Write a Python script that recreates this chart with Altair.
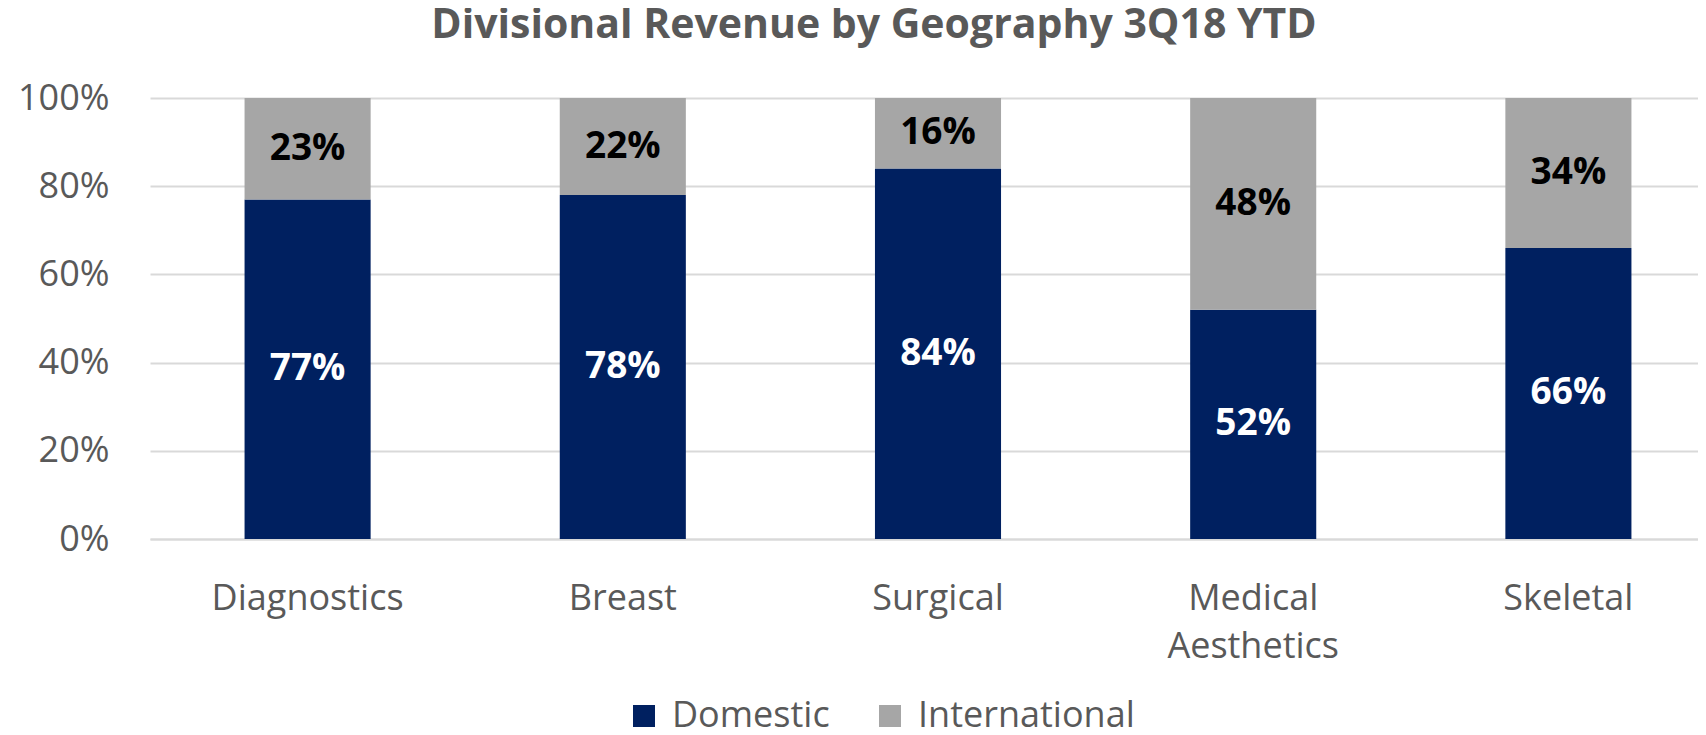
import altair as alt
import pandas as pd

categories = ["Diagnostics", "Breast", "Surgical", "Medical Aesthetics", "Skeletal"]
domestic = [77, 78, 84, 52, 66]
international = [23, 22, 16, 48, 34]
series = ["Domestic", "International"]
colors = ["#002060", "#A6A6A6"]
label_colors = ["#FFFFFF", "#000000"]

rows = []
for i, c in enumerate(categories):
    rows.append({"cat": c, "series": "Domestic", "value": domestic[i] / 100,
                 "lo": 0, "hi": domestic[i] / 100})
    rows.append({"cat": c, "series": "International", "value": international[i] / 100,
                 "lo": domestic[i] / 100, "hi": 1.0})
df = pd.DataFrame(rows)
df["mid"] = (df["lo"] + df["hi"]) / 2
df["txt"] = (df["value"] * 100).round().astype(int).astype(str) + "%"

FONT = "Open Sans"

xenc = alt.X("cat:N", sort=categories, title=None,
             scale=alt.Scale(range=[0, 1576], paddingInner=0.6, paddingOuter=0.3),
             axis=alt.Axis(labelFontSize=36, labelColor="#595959", labelFont=FONT,
                           labelAngle=0, ticks=False, domainColor="#D9D9D9",
                           domainWidth=2, labelPadding=42, labelLineHeight=48,
                           labelExpr="split(datum.label, ' ')", labelLimit=400))

bars = alt.Chart(df).mark_bar().encode(
    x=xenc,
    y=alt.Y("lo:Q", scale=alt.Scale(domain=[0, 1]), title=None,
            axis=alt.Axis(format=".0%", values=[0, 0.2, 0.4, 0.6, 0.8, 1.0],
                          labelFontSize=36, labelColor="#595959", labelFont=FONT,
                          ticks=False, domain=False, gridColor="#D9D9D9",
                          gridWidth=2, labelPadding=41)),
    y2="hi:Q",
    color=alt.Color("series:N", sort=series,
                    scale=alt.Scale(domain=series, range=colors),
                    legend=alt.Legend(title=None, orient="none", direction="horizontal",
                                      legendX=476, legendY=600,
                                      symbolType="square", symbolSize=484,
                                      symbolStrokeWidth=0, labelFontSize=36,
                                      labelFont=FONT, labelColor="#595959",
                                      labelOffset=10, columnPadding=42, padding=0,
                                      labelLimit=400)),
)

labels = alt.Chart(df).mark_text(fontSize=37, fontWeight="bold", font=FONT,
                                 baseline="middle").encode(
    x=alt.X("cat:N", sort=categories),
    y=alt.Y("mid:Q"),
    text="txt:N",
    color=alt.Color("series:N", scale=alt.Scale(domain=series, range=label_colors),
                    legend=None),
)

chart = alt.layer(bars, labels).resolve_scale(color="independent").properties(
    width=1548, height=441,
    padding={"left": 142, "top": 90, "right": 0, "bottom": 188},
    autosize=alt.AutoSizeParams(type="none"),
    title=alt.TitleParams("Divisional Revenue by Geography 3Q18 YTD", fontSize=41,
                          fontWeight="bold", color="#595959", font=FONT,
                          anchor="middle", frame="group", dx=-50, offset=1,
                          baseline="alphabetic"),
).configure_view(stroke=None)

chart.save("out.html", embed_options={"renderer": "svg", "actions": False})
